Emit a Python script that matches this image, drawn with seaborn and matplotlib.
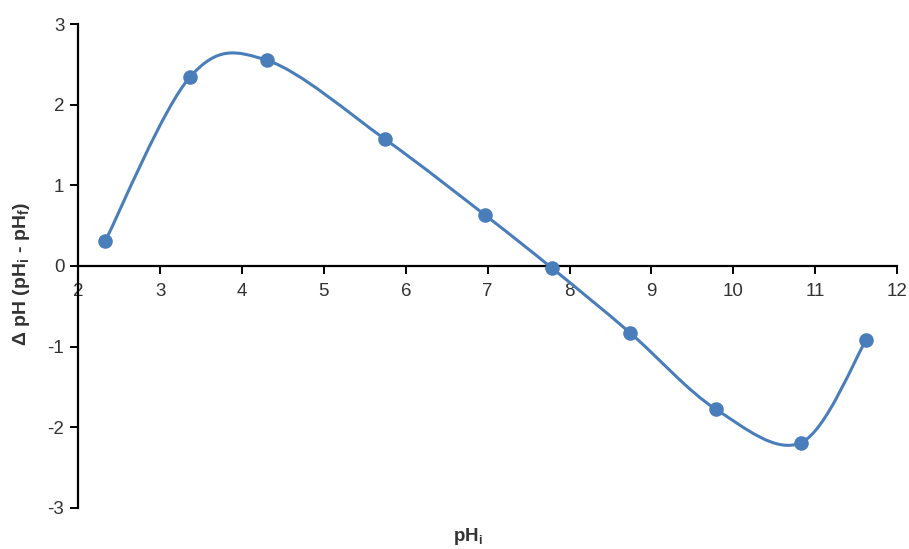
import numpy as np
import matplotlib
matplotlib.use("Agg")
import matplotlib.pyplot as plt
from matplotlib.path import Path
from matplotlib.patches import PathPatch
import seaborn as sns

# values
ph_initial = [2.33, 3.37, 4.31, 5.75, 6.97, 7.79, 8.74, 9.79, 10.83, 11.62]
delta_ph = [0.31, 2.35, 2.55, 1.57, 0.63, -0.03, -0.83, -1.78, -2.19, -0.92]
x_ticks = [2, 3, 4, 5, 6, 7, 8, 9, 10, 11, 12]
y_ticks = [-3, -2, -1, 0, 1, 2, 3]

sns.set_style("white")
plt.rcParams['font.family'] = ['Liberation Sans', 'DejaVu Sans']
plt.rcParams['axes.unicode_minus'] = False

blue = "#4a7ebb"
text_col = "#333333"

fig = plt.figure(figsize=(9.09, 5.49), dpi=100)
ax = fig.add_axes([0.086, 0.075, 0.901, 0.881])


def smooth_path(xs, ys, t=1 / 6):
    # Excel-like smoothed line: cubic Bezier segments, Catmull-Rom control points
    pts = np.column_stack([xs, ys])
    n = len(pts)
    verts = [pts[0]]
    codes = [Path.MOVETO]
    for i in range(n - 1):
        p0 = pts[max(i - 1, 0)]
        p1 = pts[i]
        p2 = pts[i + 1]
        p3 = pts[min(i + 2, n - 1)]
        verts += [p1 + (p2 - p0) * t, p2 - (p3 - p1) * t, p2]
        codes += [Path.CURVE4] * 3
    return Path(verts, codes)


ax.add_patch(PathPatch(smooth_path(ph_initial, delta_ph), fill=False,
                       edgecolor=blue, lw=2.2, zorder=2))
sns.scatterplot(x=ph_initial, y=delta_ph, ax=ax, color=blue, s=110,
                edgecolor=blue, linewidth=0, zorder=3)

ax.set_xlim(2, 12)
ax.set_ylim(-3, 3)
ax.set_xticks(x_ticks)
ax.set_yticks(y_ticks)

for s in ["top", "right"]:
    ax.spines[s].set_visible(False)
ax.spines["bottom"].set_position(("data", 0))
ax.spines["left"].set_position(("data", 2))
for s in ["bottom", "left"]:
    ax.spines[s].set_color("black")
    ax.spines[s].set_linewidth(1.6)

ax.tick_params(axis="both", direction="out", length=6, width=1.4,
               colors="black", labelcolor=text_col, labelsize=13.5)
ax.tick_params(axis="x", bottom=True, pad=6)
ax.tick_params(axis="y", left=True, pad=4)

ax.set_xlabel("")
ax.set_ylabel("")
fig.text(0.515, 0.022, "pH$_\\mathregular{i}$", ha="center", va="center",
         fontsize=13.5, fontweight="bold", color=text_col)
fig.text(0.024, 0.5, "Δ pH (pH$_\\mathregular{i}$ - pH$_\\mathregular{f}$)",
         ha="center", va="center", rotation=90,
         fontsize=14, fontweight="bold", color=text_col)

fig.savefig("out.png", dpi=100)
